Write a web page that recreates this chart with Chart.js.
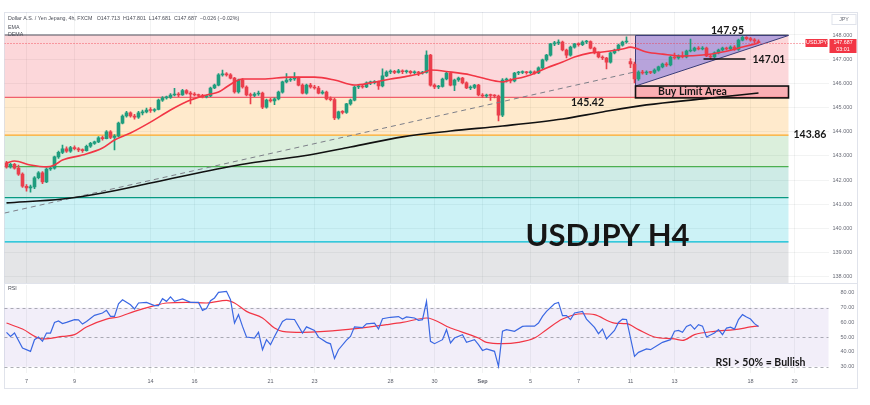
<!DOCTYPE html>
<html>
<head>
<meta charset="utf-8">
<script src="https://cdn.jsdelivr.net/npm/chart.js@4.4.0/dist/chart.umd.min.js"></script>
<style>
  body { margin: 0; background: #fff; width: 870px; height: 405px; position: relative; overflow: hidden; }
  #frame { position: absolute; left: 4px; top: 12px; width: 854px; height: 377px; border: 1px solid #e0e3eb; box-sizing: border-box; }
  #sep { position: absolute; left: 4px; top: 283px; width: 854px; height: 1px; background: #e0e3eb; }
  #mainWrap { position: absolute; left: 0; top: 12px; width: 870px; height: 271px; }
  #rsiWrap { position: absolute; left: 0; top: 284px; width: 870px; height: 106px; }
</style>
</head>
<body>
<div id="frame"></div>
<div id="sep"></div>
<div id="mainWrap"><canvas id="mainChart"></canvas></div>
<div id="rsiWrap"><canvas id="rsiChart"></canvas></div>
<script>
// 4h candles, USDJPY
const candleO = [
  142.72,142.55,142.65,142.50,142.25,141.75,141.68,141.72,142.10,142.30,
  141.93,142.46,142.50,142.96,143.15,143.30,143.20,143.35,143.30,143.25,
  143.22,143.40,143.52,143.58,143.75,143.72,144.00,143.77,143.82,144.36,
  144.65,144.78,144.65,144.60,144.78,144.82,144.90,144.88,144.92,145.31,
  145.40,145.42,145.52,145.56,145.52,145.70,145.60,145.55,145.52,145.50,
  145.44,145.48,145.81,145.93,146.35,146.38,146.35,146.22,145.65,146.14,
  145.85,145.52,145.50,145.56,145.60,145.02,145.31,145.28,145.36,145.64,
  146.06,146.14,146.18,146.22,145.93,145.60,145.93,145.85,145.81,145.60,
  145.64,145.36,145.33,144.57,144.82,144.80,145.15,145.31,145.85,145.88,
  145.85,146.02,146.03,146.06,145.89,146.31,146.47,146.50,146.45,146.52,
  146.48,146.50,146.44,146.47,146.43,146.45,147.17,145.93,145.85,145.87,
  146.18,146.43,145.93,146.14,146.22,146.02,145.81,145.83,145.93,145.52,
  145.48,145.52,145.50,145.48,144.69,146.14,146.14,146.10,146.43,146.45,
  146.47,146.44,146.48,146.43,146.64,146.97,147.17,147.63,147.67,147.71,
  147.38,147.17,147.50,147.63,147.60,147.71,147.73,147.46,147.26,147.09,
  147.05,146.88,147.26,147.38,147.58,147.71,146.90,146.80,146.18,146.47,
  146.43,146.47,146.45,146.55,146.68,146.80,146.76,147.09,147.05,147.13,
  147.09,147.34,147.36,147.46,147.42,147.46,147.13,147.09,147.26,147.38,
  147.46,147.42,147.50,147.40,147.79,147.90,147.85,147.80,147.713
];
const candleH = [
  142.78,142.70,142.70,142.62,142.30,141.82,141.80,142.15,142.35,142.35,
  142.50,142.55,143.00,143.20,143.45,143.38,143.40,143.42,143.35,143.30,
  143.45,143.56,143.62,143.80,143.82,144.05,144.05,143.88,144.40,144.70,
  144.85,144.82,144.72,144.85,144.90,144.98,145.00,144.96,145.35,145.45,
  145.48,145.58,145.80,145.62,145.75,145.74,145.66,145.62,145.56,145.55,
  145.52,145.85,145.97,146.40,146.55,146.45,146.40,146.25,146.18,146.20,
  145.90,145.60,145.62,145.68,145.64,145.35,145.38,145.40,145.68,146.10,
  146.40,146.25,146.45,146.26,145.98,145.97,146.00,145.92,145.88,145.70,
  145.68,145.44,145.38,144.86,144.88,145.18,145.35,145.90,145.94,145.92,
  146.06,146.10,146.12,146.10,146.60,146.52,146.56,146.54,146.58,146.56,
  146.55,146.53,146.52,146.50,146.50,147.35,147.20,145.98,145.92,146.22,
  146.46,146.48,146.18,146.26,146.25,146.06,145.90,145.96,145.96,145.58,
  145.56,145.56,145.54,145.52,146.20,146.22,146.20,146.46,146.50,146.52,
  146.50,146.52,146.52,146.68,147.00,147.20,147.66,147.74,147.80,147.75,
  147.42,147.54,147.66,147.68,147.76,147.78,147.76,147.50,147.30,147.14,
  147.08,147.30,147.42,147.62,147.75,147.92,147.02,146.88,146.52,146.54,
  146.52,146.50,146.60,146.72,146.84,146.86,147.12,147.25,147.18,147.30,
  147.38,147.83,147.50,147.52,147.52,147.50,147.18,147.30,147.42,147.50,
  147.50,147.55,147.56,147.83,147.95,147.93,147.90,147.85,147.801
];
const candleL = [
  142.50,142.50,142.45,142.20,141.70,141.55,141.50,141.65,142.05,141.85,
  141.90,142.40,142.45,142.90,143.10,143.15,143.15,143.25,143.18,143.15,
  143.20,143.35,143.48,143.55,143.65,143.70,143.72,143.25,143.80,144.32,
  144.60,144.60,144.52,144.55,144.70,144.78,144.80,144.82,144.90,145.25,
  145.35,145.38,145.48,145.45,145.50,145.55,145.15,145.48,145.45,145.40,
  145.40,145.45,145.78,145.90,146.30,146.30,146.18,145.60,145.60,145.80,
  145.48,145.15,145.45,145.50,144.95,144.98,145.22,145.12,145.32,145.60,
  146.02,146.08,146.12,145.90,145.56,145.55,145.80,145.76,145.56,145.55,
  145.32,145.28,144.50,144.52,144.74,144.76,145.10,145.28,145.78,145.80,
  145.82,145.95,145.98,145.75,145.85,146.28,146.40,146.40,146.42,146.40,
  146.42,146.38,146.40,146.32,146.38,146.42,145.88,145.78,145.78,145.84,
  146.14,145.90,145.70,146.08,145.98,145.78,145.74,145.78,145.48,145.42,
  145.42,145.30,145.40,144.45,144.62,146.05,146.02,146.06,146.36,146.40,
  146.38,146.40,146.38,146.40,146.60,146.92,147.12,147.56,147.60,147.34,
  147.05,147.12,147.45,147.54,147.56,147.64,147.42,147.22,147.05,146.98,
  146.60,146.84,147.22,147.34,147.54,147.66,146.65,146.02,146.12,146.38,
  146.36,146.40,146.40,146.50,146.64,146.70,146.72,147.00,147.00,147.05,
  147.05,147.30,147.32,147.38,147.38,147.10,147.01,147.05,147.22,147.34,
  147.38,147.38,147.36,147.36,147.75,147.80,147.74,147.68,147.681
];
const candleC = [
  142.55,142.65,142.50,142.25,141.75,141.68,141.72,142.10,142.30,141.93,
  142.46,142.50,142.96,143.15,143.30,143.20,143.35,143.30,143.25,143.22,
  143.40,143.52,143.58,143.75,143.72,144.00,143.77,143.82,144.36,144.65,
  144.78,144.65,144.60,144.78,144.82,144.90,144.88,144.92,145.31,145.40,
  145.42,145.52,145.56,145.52,145.70,145.60,145.55,145.52,145.50,145.44,
  145.48,145.81,145.93,146.35,146.38,146.35,146.22,145.65,146.14,145.85,
  145.52,145.50,145.56,145.60,145.02,145.31,145.28,145.36,145.64,146.06,
  146.14,146.18,146.22,145.93,145.60,145.93,145.85,145.81,145.60,145.64,
  145.36,145.33,144.57,144.82,144.80,145.15,145.31,145.85,145.88,145.85,
  146.02,146.03,146.06,145.89,146.31,146.47,146.50,146.45,146.52,146.48,
  146.50,146.44,146.47,146.43,146.45,147.17,145.93,145.85,145.87,146.18,
  146.43,145.93,146.14,146.22,146.02,145.81,145.83,145.93,145.52,145.48,
  145.52,145.50,145.48,144.69,146.14,146.14,146.10,146.43,146.45,146.47,
  146.44,146.48,146.43,146.64,146.97,147.17,147.63,147.67,147.71,147.38,
  147.17,147.50,147.63,147.60,147.71,147.73,147.46,147.26,147.09,147.05,
  146.88,147.26,147.38,147.58,147.71,147.73,146.80,146.18,146.47,146.43,
  146.47,146.45,146.55,146.68,146.80,146.76,147.09,147.05,147.13,147.09,
  147.34,147.36,147.46,147.42,147.46,147.13,147.09,147.26,147.38,147.46,
  147.42,147.50,147.40,147.79,147.90,147.85,147.80,147.75,147.687
];

// EMA (red) and DEMA (black) read at candle indexes
const emaIdx = [0,2,6,10,12,14,19,24,27,31,36,41,46,50,53,55,57,59,64,71,77,82,87,91,96,99,104,106,111,116,121,124,126,131,135,139,142,146,149,154,156,160,164,169,174,179,184,188];
const emaVal = [142.71,142.79,142.63,142.55,142.63,142.83,143.04,143.33,143.66,143.95,144.40,144.90,145.31,145.52,145.64,145.85,146.06,146.18,146.18,146.26,146.26,146.14,145.93,146.02,146.18,146.26,146.43,146.55,146.47,146.35,146.14,146.06,146.14,146.35,146.64,146.88,147.09,147.26,147.30,147.42,147.50,147.30,147.21,147.13,147.17,147.30,147.50,147.67];
const demaIdx = [0,14,24,36,49,61,74,86,99,111,124,139,149,160,174,188];
const demaVal = [141.06,141.22,141.47,141.88,142.34,142.71,143.00,143.37,143.79,144.03,144.24,144.53,144.82,145.11,145.36,145.60];
const trendIdx = [-0.5, 157];
const trendVal = [140.64, 146.47];

// RSI and its moving average
const rsiIdx = [0,1,2,4,6,7,8,9,10,11,12,13,14,15,17,18,19,20,22,24,25,26,27,28,29,31,32,33,35,37,38,39,40,41,42,44,46,48,49,50,51,52,53,55,56,57,58,59,60,62,63,64,65,66,67,69,70,72,74,75,77,78,80,81,82,83,85,86,87,89,90,92,93,94,96,98,99,100,102,103,104,105,106,107,109,110,111,112,114,115,117,118,119,120,122,123,124,125,127,129,130,132,133,134,135,137,138,139,140,141,142,144,145,147,148,149,150,152,153,154,155,157,158,160,161,163,164,166,167,168,169,170,171,172,173,174,175,177,178,179,180,181,182,183,184,185,186,187,188];
const rsiVal = [53.3,50.5,52.8,42.7,40.4,48.3,50.1,47.2,52.8,52.8,60.0,61.0,59.2,60.0,61.9,61.7,58.9,60.7,64.8,66.4,68.2,64.1,64.1,72.7,75.4,72.0,69.1,73.2,73.6,71.4,71.4,76.1,74.3,77.3,74.3,75.9,73.6,73.6,68.2,69.5,74.7,76.6,80.4,81.1,75.4,59.6,65.3,57.3,50.1,49.4,53.3,41.5,48.3,44.9,50.5,60.7,62.3,62.0,52.8,57.0,54.5,50.0,46.5,45.5,35.5,41.5,48.0,50.5,57.0,56.5,59.0,59.5,55.5,62.5,63.5,64.0,62.3,63.7,63.0,61.4,61.9,74.3,47.2,45.6,48.3,55.1,46.1,49.4,51.7,46.5,48.3,44.9,41.0,42.0,40.4,30.2,54.0,55.1,54.0,57.3,57.6,57.5,59.6,64.1,67.5,72.7,73.6,64.6,64.6,61.9,66.4,67.5,62.3,56.7,52.4,55.5,48.8,54.6,60.0,62.3,62.0,37.0,39.7,42.0,41.5,44.9,46.5,48.3,54.0,54.6,53.3,57.3,58.5,55.5,58.5,57.5,50.1,52.8,55.1,51.7,56.2,56.8,55.5,61.9,65.3,63.7,62.3,59.2,57.3];
const sigIdx = [0,4,9,14,17,20,25,28,32,37,40,45,50,55,57,60,64,67,69,74,86,95,99,105,111,118,120,124,128,132,135,139,144,147,152,155,158,162,167,169,172,177,182,187,188];
const sigVal = [59.6,55.5,48.8,50.5,51.7,56.9,62.3,63.7,67.5,71.4,73.2,73.6,73.2,75.0,73.2,67.5,63.0,56.2,54.0,53.3,55.5,58.5,60.0,63.0,56.2,49.4,46.5,45.6,46.5,49.4,55.1,62.3,65.9,65.3,59.6,59.2,55.1,50.1,48.8,47.8,51.7,54.0,55.1,57.3,57.5];

// axis labels
const tickIdx = [5,17,36,47,66,77,96,107,119,131,143,156,167,186,197];
const tickTxt = ['7','9','14','16','21','23','28','30','Sep','5','7','11','13','18','20'];
const priceTicks = [138,139,140,141,142,143,144,145,146,147,148];
const rsiTicks = [30,40,50,60,70,80];

// drawings
const fibLevels = [148.00, 145.42, 143.86, 142.56, 141.28, 139.45, 137.07];
const fibFill = ['rgba(242,54,69,0.2)','rgba(255,152,0,0.2)','rgba(76,175,80,0.2)','rgba(8,153,129,0.2)','rgba(0,188,212,0.2)','rgba(120,123,134,0.2)'];
const fibLine = ['#50535e','#f0606c','#ffa726','#4caf50','#089981','#00bcd4','#787b86'];
const fibSpan = [-0.5, 195.5];
const triIdx = [157.25, 195.5, 157.25];
const triVal = [147.98, 147.98, 145.89];
const boxIdx = [157.25, 195.5];
const boxVal = [145.40, 145.89];
const supIdx = [174.25, 184.75];
const supVal = 147.01;
const lastPrice = 147.687;

const upColor = '#1f9d7e';
const downColor = '#ea3f4c';
const FONT = "'Liberation Sans', Arial, sans-serif";
const BOLD = "Lato, 'Open Sans', sans-serif";

const pts = (xs, ys) => xs.map((v, k) => ({ x: v, y: ys[k] }));
const candleColors = candleC.map((c, i) => c >= candleO[i] ? upColor : downColor);

function fixY(scale) { scale.width = 41.5; scale.paddingTop = 0; scale.paddingBottom = 0; }
function ticksAt(values) { return scale => { scale.ticks = values.map(v => ({ value: v })); }; }

function label(ctx, text, x, y, size, align) {
    ctx.font = 'bold ' + size + 'px ' + BOLD;
    ctx.fillStyle = '#161616';
    ctx.textAlign = align || 'center';
    ctx.textBaseline = 'middle';
    ctx.fillText(text, x, y);
}

const mainOverlay = {
    id: 'mainOverlay',
    beforeDatasetsDraw(chart) {
        const { ctx, chartArea: a, scales: { x, y } } = chart;
        const px = v => x.getPixelForValue(v), py = v => y.getPixelForValue(v);
        ctx.save();
        ctx.beginPath();
        ctx.rect(a.left, a.top, a.right - a.left, a.bottom - a.top);
        ctx.clip();
        const xl = px(fibSpan[0]), xr = px(fibSpan[1]);
        for (let k = 0; k < fibFill.length; k++) {
            const y1 = py(fibLevels[k]), y2 = py(fibLevels[k + 1]);
            ctx.fillStyle = fibFill[k];
            ctx.fillRect(xl, y1, xr - xl, y2 - y1);
        }
        ctx.lineWidth = 1.2;
        fibLevels.forEach((lv, k) => {
            ctx.strokeStyle = fibLine[k];
            ctx.beginPath();
            ctx.moveTo(xl, py(lv));
            ctx.lineTo(xr, py(lv));
            ctx.stroke();
        });
        // ascending triangle
        ctx.beginPath();
        triIdx.forEach((v, k) => {
            if (k === 0) ctx.moveTo(px(v), py(triVal[k])); else ctx.lineTo(px(v), py(triVal[k]));
        });
        ctx.closePath();
        ctx.fillStyle = 'rgba(70,80,220,0.38)';
        ctx.fill();
        ctx.strokeStyle = '#3a3d78';
        ctx.lineWidth = 1;
        ctx.stroke();
        // buy limit box
        const bx1 = px(boxIdx[0]), bx2 = px(boxIdx[1]);
        const by1 = py(boxVal[1]), by2 = py(boxVal[0]);
        ctx.fillStyle = 'rgba(242,54,69,0.25)';
        ctx.fillRect(bx1, by1, bx2 - bx1, by2 - by1);
        ctx.strokeStyle = '#111';
        ctx.lineWidth = 1.6;
        ctx.strokeRect(bx1, by1, bx2 - bx1, by2 - by1);
        // current price line
        ctx.setLineDash([1, 2]);
        ctx.strokeStyle = 'rgba(242,54,69,0.8)';
        ctx.lineWidth = 1;
        ctx.beginPath();
        ctx.moveTo(a.left, Math.round(py(lastPrice)) + 0.5);
        ctx.lineTo(a.right, Math.round(py(lastPrice)) + 0.5);
        ctx.stroke();
        ctx.restore();
    },
    afterDatasetsDraw(chart) {
        const { ctx, scales: { x, y } } = chart;
        const px = v => x.getPixelForValue(v), py = v => y.getPixelForValue(v);
        ctx.save();
        // support line 147.01
        ctx.strokeStyle = '#111';
        ctx.lineWidth = 1.6;
        ctx.beginPath();
        ctx.moveTo(px(supIdx[0]), py(supVal));
        ctx.lineTo(px(supIdx[1]), py(supVal));
        ctx.stroke();
        label(ctx, '147.95', px(180.25), py(148.18), 10.5);
        label(ctx, '147.01', px(186.5), py(147.0), 10.5, 'left');
        label(ctx, '145.42', px(145.25), py(145.19), 10.5);
        label(ctx, '143.86', px(196.75), py(143.9), 10.5, 'left');
        label(ctx, 'Buy Limit Area', px(171.5), py(145.645), 10.5);
        label(ctx, 'USDJPY H4', px(150.25), py(139.7), 31);
        ctx.restore();
    },
    afterDraw(chart) {
        const { ctx, chartArea: a, scales: { y } } = chart;
        ctx.save();
        // header
        ctx.font = '5.3px ' + FONT;
        ctx.fillStyle = '#4a4d57';
        ctx.textAlign = 'left';
        ctx.textBaseline = 'middle';
        ctx.fillText('Dollar A.S. / Yen Jepang, 4h, FXCM   O147.713  H147.801  L147.681  C147.687  \u22120.026 (\u22120.02%)', a.left + 3.5, a.top + 7);
        ctx.fillText('EMA', a.left + 3.5, a.top + 15.5);
        ctx.fillText('DEMA', a.left + 3.5, a.top + 23);
        // JPY box
        ctx.strokeStyle = '#e0e3eb';
        ctx.lineWidth = 1;
        ctx.strokeRect(a.right + 3.5, a.top + 2.5, 24, 10);
        ctx.fillStyle = '#6a6d78';
        ctx.textAlign = 'center';
        ctx.fillText('JPY', a.right + 15.5, a.top + 7.5);
        // price tags
        const yp = Math.round(y.getPixelForValue(lastPrice));
        ctx.fillStyle = '#f23645';
        ctx.fillRect(a.right - 23, yp - 4, 22, 8);
        ctx.fillRect(a.right + 1, yp - 4, 27, 14);
        ctx.fillStyle = '#fff';
        ctx.font = '5.3px ' + FONT;
        ctx.fillText('USDJPY', a.right - 12, yp);
        ctx.fillText('147.687', a.right + 14.5, yp);
        ctx.fillText('03:01', a.right + 14.5, yp + 6.5);
        ctx.restore();
    }
};

const rsiOverlay = {
    id: 'rsiOverlay',
    beforeDatasetsDraw(chart) {
        const { ctx, chartArea: a, scales: { y } } = chart;
        ctx.save();
        ctx.fillStyle = 'rgba(126,87,194,0.1)';
        ctx.fillRect(a.left, y.getPixelForValue(70), a.right - a.left, y.getPixelForValue(30) - y.getPixelForValue(70));
        ctx.setLineDash([3, 3]);
        ctx.strokeStyle = 'rgba(120,123,134,0.6)';
        ctx.lineWidth = 1;
        [70, 50, 30].forEach(v => {
            const yy = Math.round(y.getPixelForValue(v)) + 0.5;
            ctx.beginPath();
            ctx.moveTo(a.left, yy);
            ctx.lineTo(a.right, yy);
            ctx.stroke();
        });
        ctx.restore();
    },
    afterDraw(chart) {
        const { ctx, chartArea: a, scales: { x, y } } = chart;
        ctx.save();
        ctx.font = '5.3px ' + FONT;
        ctx.fillStyle = '#4a4d57';
        ctx.textAlign = 'left';
        ctx.textBaseline = 'middle';
        ctx.fillText('RSI', a.left + 3.5, a.top + 3.5);
        label(ctx, 'RSI > 50% = Bullish', x.getPixelForValue(188.5), y.getPixelForValue(32.7), 10.5);
        ctx.restore();
    }
};

const gridColor = 'rgba(42,46,57,0.06)';

new Chart(document.getElementById('mainChart'), {
    type: 'bar',
    data: {
        datasets: [
            {
                type: 'line', label: 'EMA', data: pts(emaIdx, emaVal), order: 0,
                borderColor: '#f23645', borderWidth: 1.6, pointRadius: 0, cubicInterpolationMode: 'monotone'
            },
            {
                type: 'line', label: 'DEMA', data: pts(demaIdx, demaVal), order: 0,
                borderColor: '#111', borderWidth: 1.6, pointRadius: 0, cubicInterpolationMode: 'monotone'
            },
            {
                type: 'line', label: 'Trend', data: pts(trendIdx, trendVal), order: 0,
                borderColor: '#7d7f88', borderWidth: 1, borderDash: [5, 4], pointRadius: 0
            },
            {
                label: 'Body', order: 1, grouped: false, barThickness: 3, minBarLength: 1,
                data: candleO.map((o, i) => ({ x: i, y: [o, candleC[i]] })),
                backgroundColor: candleColors
            },
            {
                label: 'Wick', order: 2, grouped: false, barThickness: 1,
                data: candleL.map((l, i) => ({ x: i, y: [l, candleH[i]] })),
                backgroundColor: candleColors
            }
        ]
    },
    options: {
        responsive: true,
        maintainAspectRatio: false,
        animation: false,
        layout: { padding: { left: 4.5, right: 0, top: 0, bottom: 0 } },
        plugins: { legend: { display: false }, tooltip: { enabled: false } },
        scales: {
            x: {
                type: 'linear', min: -0.5, max: 205.5, offset: false,
                grid: { color: gridColor, drawTicks: false, offset: false },
                border: { display: false },
                ticks: { display: false },
                afterBuildTicks: ticksAt(tickIdx),
                afterFit: s => { s.height = 0; s.paddingLeft = 0; s.paddingRight = 0; }
            },
            y: {
                position: 'right', min: 137.75, max: 148.95, beginAtZero: false,
                grid: { color: gridColor, drawTicks: false },
                border: { display: false },
                ticks: { padding: 4, color: '#6a6d78', font: { size: 5.5, family: FONT }, callback: v => v.toFixed(3) },
                afterBuildTicks: ticksAt(priceTicks),
                afterFit: fixY
            }
        }
    },
    plugins: [mainOverlay]
});

new Chart(document.getElementById('rsiChart'), {
    type: 'line',
    data: {
        datasets: [
            {
                label: 'RSI', data: pts(rsiIdx, rsiVal),
                borderColor: '#3b68e3', borderWidth: 1.2, pointRadius: 0, tension: 0
            },
            {
                label: 'RSI MA', data: pts(sigIdx, sigVal),
                borderColor: '#f23645', borderWidth: 1.2, pointRadius: 0, cubicInterpolationMode: 'monotone'
            }
        ]
    },
    options: {
        responsive: true,
        maintainAspectRatio: false,
        animation: false,
        layout: { padding: { left: 4.5, right: 0, top: 1, bottom: 0 } },
        plugins: { legend: { display: false }, tooltip: { enabled: false } },
        scales: {
            x: {
                type: 'linear', min: -0.5, max: 205.5,
                grid: { color: gridColor, drawTicks: false },
                border: { display: false },
                ticks: {
                    padding: 5, color: '#5d606b',
                    font: c => ({ size: 5.5, family: FONT, weight: c.tick && c.tick.label === 'Sep' ? 'bold' : 'normal' }),
                    callback: v => tickTxt[tickIdx.indexOf(v)]
                },
                afterBuildTicks: ticksAt(tickIdx),
                afterFit: s => { s.height = 17; s.paddingLeft = 0; s.paddingRight = 0; }
            },
            y: {
                position: 'right', min: 25.7, max: 85.4,
                grid: { display: false },
                border: { display: false },
                ticks: { padding: 4, color: '#6a6d78', font: { size: 5.5, family: FONT }, callback: v => v.toFixed(2) },
                afterBuildTicks: ticksAt(rsiTicks),
                afterFit: fixY
            }
        }
    },
    plugins: [rsiOverlay]
});
</script>
</body>
</html>
